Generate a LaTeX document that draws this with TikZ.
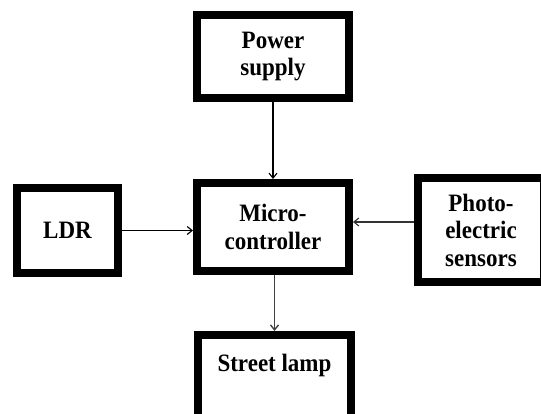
\documentclass[tikz,border=0pt]{standalone}
\usepackage{fontspec}
\setmainfont{Liberation Serif}
\newfontfamily\blkfont[FakeStretch=0.92]{Liberation Serif}
\usetikzlibrary{arrows.meta, positioning, shadows}

\begin{document}
\begin{tikzpicture}[
    x=1pt, y=1pt,
    font=\blkfont\fontsize{25}{27.5}\selectfont\bfseries,
    blk/.style={draw, line width=8pt, fill=white, align=center, inner sep=2pt,
        drop shadow={shadow xshift=0.6pt, shadow yshift=-1.6pt, fill=black!30, opacity=1}},
    flow/.style={-{Straight Barb[length=5pt, width=8pt]}, line width=1.1pt},
]
\useasboundingbox (0,0) rectangle (541,-414);
\node[blk, minimum width=152pt, minimum height=88pt] (micro) at (273,-227) {Micro-\\controller};
\node[blk, minimum width=152pt, minimum height=83pt, above=77pt of micro] (power) {Power\\supply};
\node[blk, minimum width=101pt, minimum height=85pt, left=71pt of micro, yshift=-3.5pt] (ldr) {LDR};
\node[blk, minimum width=126pt, minimum height=104pt, right=61pt of micro, yshift=-3pt] (photo) {Photo-\\electric\\sensors};
\node[blk, minimum width=153pt, minimum height=83pt, below=56pt of micro, xshift=1.5pt] (lamp) {Street lamp\\\mbox{}};
\draw[flow] (power) -- (micro);
\draw[flow] (ldr.east) -- (ldr.east -| micro.west);
\draw[flow, black!80] ([yshift=8pt]photo.west) -- ([yshift=8pt]photo.west -| micro.east);
\draw[flow, black!75, line width=1.4pt] (lamp.north |- micro.south) -- (lamp.north);
\end{tikzpicture}
\end{document}
